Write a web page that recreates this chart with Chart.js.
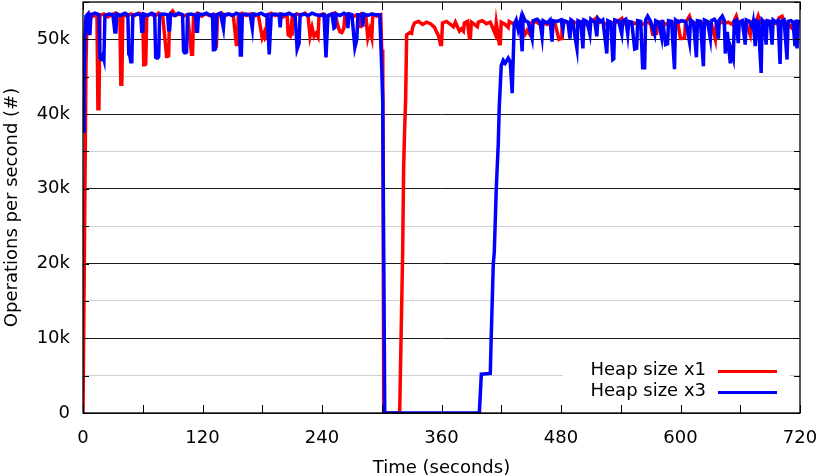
<!DOCTYPE html>
<html>
<head>
<meta charset="utf-8">
<script src="https://cdn.jsdelivr.net/npm/chart.js@4"></script>
<style>
  html, body { margin: 0; padding: 0; background: #fff; }
  #wrap { width: 820px; height: 476px; }
</style>
</head>
<body>
<div id="wrap"><canvas id="chart" width="820" height="476"></canvas></div>
<script>
// time in seconds, throughput in thousands of operations per second
const x1Times = [0, 1, 3, 4, 7, 10, 14, 15, 16, 17, 21, 25, 29, 33, 37, 38, 39, 40, 44, 48, 52, 56, 60, 61, 62, 63, 64, 68, 72, 76, 80, 84, 85, 86, 87, 90, 93, 97, 101, 105, 109, 110, 111, 115, 119, 123, 127, 131, 133, 134, 135, 139, 143, 147, 151, 154, 155, 156, 160, 164, 168, 172, 176, 180, 182, 183, 184, 185, 189, 193, 197, 201, 205, 206, 208, 209, 210, 211, 215, 219, 223, 226, 228, 230, 232, 234, 236, 237, 241, 245, 249, 253, 256, 258, 260, 262, 263, 267, 271, 275, 278, 279, 280, 284, 286, 288, 290, 291, 295, 299, 300, 301, 302, 318, 321, 322, 323, 324, 325, 328, 330, 331, 333, 337, 341, 345, 349, 353, 355, 357, 359, 360, 361, 365, 369, 372, 374, 378, 380, 382, 383, 386, 388, 389, 390, 393, 396, 397, 401, 405, 409, 414, 415, 418, 419, 420, 424, 427, 428, 432, 436, 440, 444, 446, 448, 450, 454, 458, 462, 466, 470, 474, 478, 480, 481, 485, 489, 493, 497, 501, 505, 509, 513, 516, 517, 521, 525, 529, 533, 537, 541, 542, 546, 550, 554, 558, 562, 566, 570, 572, 574, 576, 577, 581, 585, 589, 593, 597, 600, 602, 604, 605, 609, 611, 615, 619, 623, 627, 631, 635, 636, 640, 644, 648, 652, 656, 658, 662, 666, 670, 671, 675, 678, 680, 684, 688, 692, 696, 699, 702, 704, 708, 711, 713, 717, 720];
const x1Ops = [0, 0, 46.5, 53.2, 53.4, 53.1, 53.3, 40.7, 40.7, 53.2, 53.4, 53.0, 53.3, 53.5, 53.2, 44.0, 44.0, 53.3, 53.1, 53.4, 53.2, 53.5, 53.3, 46.6, 46.6, 46.7, 53.2, 53.4, 53.1, 53.5, 53.2, 47.7, 47.7, 47.8, 53.3, 53.8, 53.2, 53.4, 53.1, 53.3, 48.0, 48.0, 53.2, 53.5, 53.1, 53.4, 53.2, 53.3, 49.1, 49.1, 53.2, 53.5, 53.2, 53.4, 53.1, 49.3, 49.3, 53.3, 53.5, 53.2, 53.4, 53.1, 53.3, 50.2, 50.9, 50.2, 50.4, 53.2, 53.5, 53.2, 53.4, 53.0, 53.3, 50.6, 50.4, 51.6, 50.5, 53.1, 53.4, 53.2, 53.5, 53.1, 50.4, 51.6, 50.4, 50.8, 50.3, 53.2, 53.4, 53.1, 53.3, 53.5, 51.8, 51.0, 50.9, 51.5, 53.2, 53.4, 53.0, 53.3, 53.1, 51.5, 53.4, 53.2, 50.2, 51.3, 50.2, 53.3, 53.1, 53.3, 48.4, 48.4, 0, 0, 21.5, 33, 38, 42, 50.6, 50.9, 50.8, 51.6, 52.2, 52.4, 52.0, 52.3, 52.1, 51.6, 51.0, 50.5, 49.3, 49.3, 52.2, 52.4, 52.0, 51.7, 52.3, 51.1, 51.4, 51.1, 52.2, 52.4, 50.2, 50.2, 52.3, 52.0, 51.7, 52.3, 52.5, 52.1, 52.3, 50.7, 52.2, 49.4, 49.4, 52.3, 52.0, 51.6, 52.4, 52.1, 52.3, 52.0, 50.7, 51.2, 50.8, 52.2, 52.4, 52.1, 52.3, 52.0, 52.3, 52.1, 50.0, 50.1, 52.2, 52.4, 52.0, 52.3, 52.1, 52.4, 52.0, 52.3, 52.6, 52.9, 52.2, 52.4, 52.0, 52.3, 52.1, 52.4, 52.8, 52.2, 52.0, 52.3, 52.1, 52.4, 52.0, 52.3, 52.1, 50.7, 50.7, 50.8, 52.2, 52.4, 52.0, 52.3, 52.1, 52.4, 50.1, 50.1, 50.2, 52.2, 53.1, 52.3, 52.1, 52.4, 52.0, 52.3, 52.1, 50.0, 52.2, 52.4, 52.1, 52.3, 52.0, 53.1, 52.2, 52.4, 52.1, 50.6, 52.3, 52.0, 53.1, 52.2, 52.4, 52.0, 52.3, 52.1, 52.9, 53.1, 52.3, 52.0, 51.6, 52.3, 52.1, 52.3];

const x3Times = [0, 1, 2, 3, 5, 6, 7, 8, 12, 16, 17, 18, 19, 20, 21, 22, 26, 30, 32, 33, 34, 38, 42, 45, 46, 47, 48, 49, 50, 54, 58, 59, 60, 61, 65, 69, 72, 73, 74, 75, 76, 77, 81, 85, 86, 87, 88, 92, 96, 100, 101, 102, 103, 104, 105, 109, 113, 114, 115, 116, 120, 124, 128, 130, 131, 132, 133, 134, 138, 141, 142, 146, 150, 154, 157, 158, 159, 160, 164, 168, 170, 171, 175, 179, 183, 185, 187, 189, 193, 197, 198, 199, 203, 207, 211, 213, 215, 217, 218, 222, 226, 230, 234, 238, 242, 244, 246, 250, 252, 253, 254, 258, 262, 265, 266, 267, 270, 273, 275, 276, 280, 281, 282, 286, 290, 294, 298, 299, 300, 301, 303, 398, 400, 409, 410, 412, 413, 415, 417, 418, 420, 422, 424, 427, 429, 431, 433, 435, 437, 439, 441, 442, 444, 447, 451, 452, 456, 459, 461, 462, 466, 469, 471, 472, 476, 480, 482, 483, 487, 489, 490, 492, 494, 496, 497, 500, 502, 503, 506, 509, 510, 514, 516, 517, 520, 522, 526, 527, 530, 532, 533, 534, 538, 541, 542, 545, 547, 548, 551, 554, 556, 557, 560, 562, 564, 565, 567, 570, 574, 575, 578, 581, 582, 585, 587, 588, 591, 594, 595, 598, 601, 605, 607, 609, 610, 613, 616, 617, 620, 623, 624, 627, 630, 631, 634, 636, 638, 639, 642, 644, 645, 647, 650, 651, 653, 654, 656, 658, 659, 662, 665, 666, 669, 672, 673, 675, 676, 678, 681, 682, 684, 686, 687, 690, 692, 693, 696, 698, 700, 701, 704, 707, 708, 711, 713, 715, 716, 717, 718, 720];
const x3Ops = [37.7, 44, 50.5, 53.1, 53.4, 50.8, 50.8, 53.3, 53.5, 53.3, 47.6, 47.3, 47.3, 47.8, 47.3, 53.2, 53.4, 53.3, 51.0, 51.0, 53.4, 53.2, 53.5, 53.3, 48.0, 47.8, 47.0, 47.0, 53.2, 53.4, 53.3, 51.1, 51.1, 53.4, 53.2, 53.5, 53.3, 47.6, 47.5, 47.5, 47.7, 53.3, 53.4, 53.3, 51.3, 51.3, 53.4, 53.2, 53.5, 53.3, 48.4, 48.2, 48.2, 48.3, 53.3, 53.4, 53.2, 51.1, 51.1, 53.4, 53.3, 53.5, 53.2, 53.3, 48.6, 48.6, 48.7, 53.3, 53.5, 51.5, 53.3, 53.4, 53.2, 53.5, 53.3, 47.9, 47.9, 53.3, 53.4, 53.2, 51.5, 53.4, 53.3, 53.5, 53.2, 53.3, 48.0, 53.3, 53.4, 53.2, 51.6, 53.4, 53.3, 53.5, 53.2, 53.3, 48.7, 49.5, 53.3, 53.4, 53.2, 53.5, 53.3, 53.2, 53.3, 47.6, 53.2, 53.4, 51.5, 51.6, 53.4, 53.2, 53.5, 53.3, 51.5, 53.4, 53.3, 48.9, 50.0, 53.3, 53.3, 51.7, 53.4, 53.2, 53.4, 53.3, 53.3, 49.7, 46, 41.7, 0, 0, 5.2, 5.3, 10.5, 20, 21.5, 30, 36, 41, 46.5, 47.2, 46.8, 47.5, 47.0, 42.8, 52.0, 52.6, 51.3, 52.4, 48.4, 53.1, 52.5, 52.3, 50.1, 52.5, 52.7, 52.3, 50.4, 52.5, 52.2, 52.6, 49.7, 52.5, 52.4, 52.6, 51.4, 52.5, 52.3, 50.1, 52.6, 52.4, 50.4, 48.8, 52.5, 52.3, 48.8, 52.6, 52.4, 50.7, 52.7, 52.3, 50.4, 52.8, 52.4, 52.6, 48.1, 52.5, 52.3, 47.3, 47.4, 52.6, 52.4, 50.7, 52.5, 52.7, 50.7, 52.4, 52.3, 48.7, 48.8, 52.5, 52.4, 46.2, 46.2, 52.6, 53.1, 52.4, 50.7, 52.5, 52.3, 50.3, 52.6, 49.3, 49.4, 52.5, 52.4, 46.0, 52.6, 52.3, 52.5, 52.4, 51.2, 49.7, 52.6, 52.3, 47.6, 52.5, 52.4, 46.4, 52.6, 52.4, 50.1, 52.5, 52.7, 52.3, 50.1, 52.6, 53.1, 52.5, 48.1, 51.0, 46.8, 48.5, 47.5, 52.4, 52.6, 49.5, 52.3, 52.5, 49.3, 52.6, 52.4, 51.6, 52.3, 49.1, 52.5, 52.4, 45.5, 52.6, 52.3, 49.3, 52.5, 52.4, 49.3, 52.6, 52.3, 52.5, 46.7, 52.4, 52.6, 47.3, 52.4, 52.5, 52.3, 49.1, 52.6, 48.8, 52.4, 52.3];

const seriesNames = ['Heap size x1', 'Heap size x3'];
const seriesColors = ['#ff0000', '#0000ff'];

const FONT = 'DejaVu Sans';

function toPoints(times, ops) {
  return times.map((t, i) => ({ x: t, y: ops[i] * 1000 }));
}

// gnuplot style frame: inward ticks on all four sides, opaque key box
const gnuplotFrame = {
  id: 'gnuplotFrame',
  afterDatasetsDraw(chart) {
    const { ctx, chartArea: a, scales: { x, y } } = chart;
    ctx.save();

    // key
    ctx.fillStyle = '#fff';
    ctx.fillRect(563, 357, 226, 47);
    ctx.font = '18px "' + FONT + '"';
    ctx.textAlign = 'right';
    ctx.textBaseline = 'middle';
    seriesNames.forEach((name, i) => {
      const ly = 371.5 + i * 21;
      ctx.fillStyle = '#000';
      ctx.fillText(name, 706, ly - 1);
      ctx.strokeStyle = seriesColors[i];
      ctx.lineWidth = 3;
      ctx.beginPath();
      ctx.moveTo(718, ly);
      ctx.lineTo(777, ly);
      ctx.stroke();
    });

    // tick marks
    ctx.strokeStyle = '#000';
    ctx.lineWidth = 1;
    ctx.beginPath();
    for (let t = 0; t <= 720; t += 60) {
      const px = Math.round(x.getPixelForValue(t)) + 0.5;
      ctx.moveTo(px, a.bottom);
      ctx.lineTo(px, a.bottom - 8);
      ctx.moveTo(px, a.top);
      ctx.lineTo(px, a.top + 8);
    }
    for (let v = 0; v <= 55000; v += 5000) {
      const py = Math.round(y.getPixelForValue(v)) + 0.5;
      ctx.moveTo(a.left, py);
      ctx.lineTo(a.left + 6, py);
      ctx.moveTo(a.right, py);
      ctx.lineTo(a.right - 6, py);
    }
    ctx.stroke();

    ctx.lineWidth = 1.3;
    ctx.strokeRect(a.left, a.top, a.right - a.left, a.bottom - a.top);
    ctx.restore();
  }
};

new Chart(document.getElementById('chart'), {
  type: 'line',
  data: {
    datasets: [
      {
        label: seriesNames[0],
        data: toPoints(x1Times, x1Ops),
        borderColor: seriesColors[0],
        borderWidth: 3.5,
        pointRadius: 0,
        tension: 0,
        order: 1
      },
      {
        label: seriesNames[1],
        data: toPoints(x3Times, x3Ops),
        borderColor: seriesColors[1],
        borderWidth: 3.5,
        pointRadius: 0,
        tension: 0,
        order: 0
      }
    ]
  },
  options: {
    responsive: false,
    animation: false,
    devicePixelRatio: 1,
    layout: { padding: { top: 2, right: 20, bottom: 0, left: 0 } },
    plugins: {
      legend: { display: false },
      tooltip: { enabled: false }
    },
    scales: {
      x: {
        type: 'linear',
        min: 0,
        max: 720,
        grid: { display: false, drawTicks: false },
        border: { display: false },
        ticks: {
          stepSize: 120,
          padding: 15,
          maxRotation: 0,
          color: '#000',
          font: { family: FONT, size: 18 }
        },
        title: {
          display: true,
          text: 'Time (seconds)',
          color: '#000',
          font: { family: FONT, size: 18 },
          padding: { top: 0, bottom: -3 }
        },
        afterFit(s) { s.height = 63; s.paddingLeft = 0; s.paddingRight = 0; }
      },
      y: {
        min: 0,
        max: 55000,
        grid: {
          color: c => (c.tick && c.tick.value % 10000 === 0) ? '#1a1a1a' : '#d0d0d0',
          lineWidth: 1,
          drawTicks: false
        },
        border: { display: false },
        ticks: {
          stepSize: 5000,
          padding: 13,
          color: '#000',
          font: { family: FONT, size: 18 },
          callback: v => (v % 10000 !== 0) ? '' : (v === 0 ? '0' : (v / 1000) + 'k')
        },
        title: {
          display: true,
          text: 'Operations per second (#)',
          color: '#000',
          font: { family: FONT, size: 18 },
          padding: { top: 2, bottom: 0 }
        },
        afterFit(s) { s.width = 83; s.paddingTop = 0; s.paddingBottom = 0; }
      }
    }
  },
  plugins: [gnuplotFrame]
});
</script>
</body>
</html>
